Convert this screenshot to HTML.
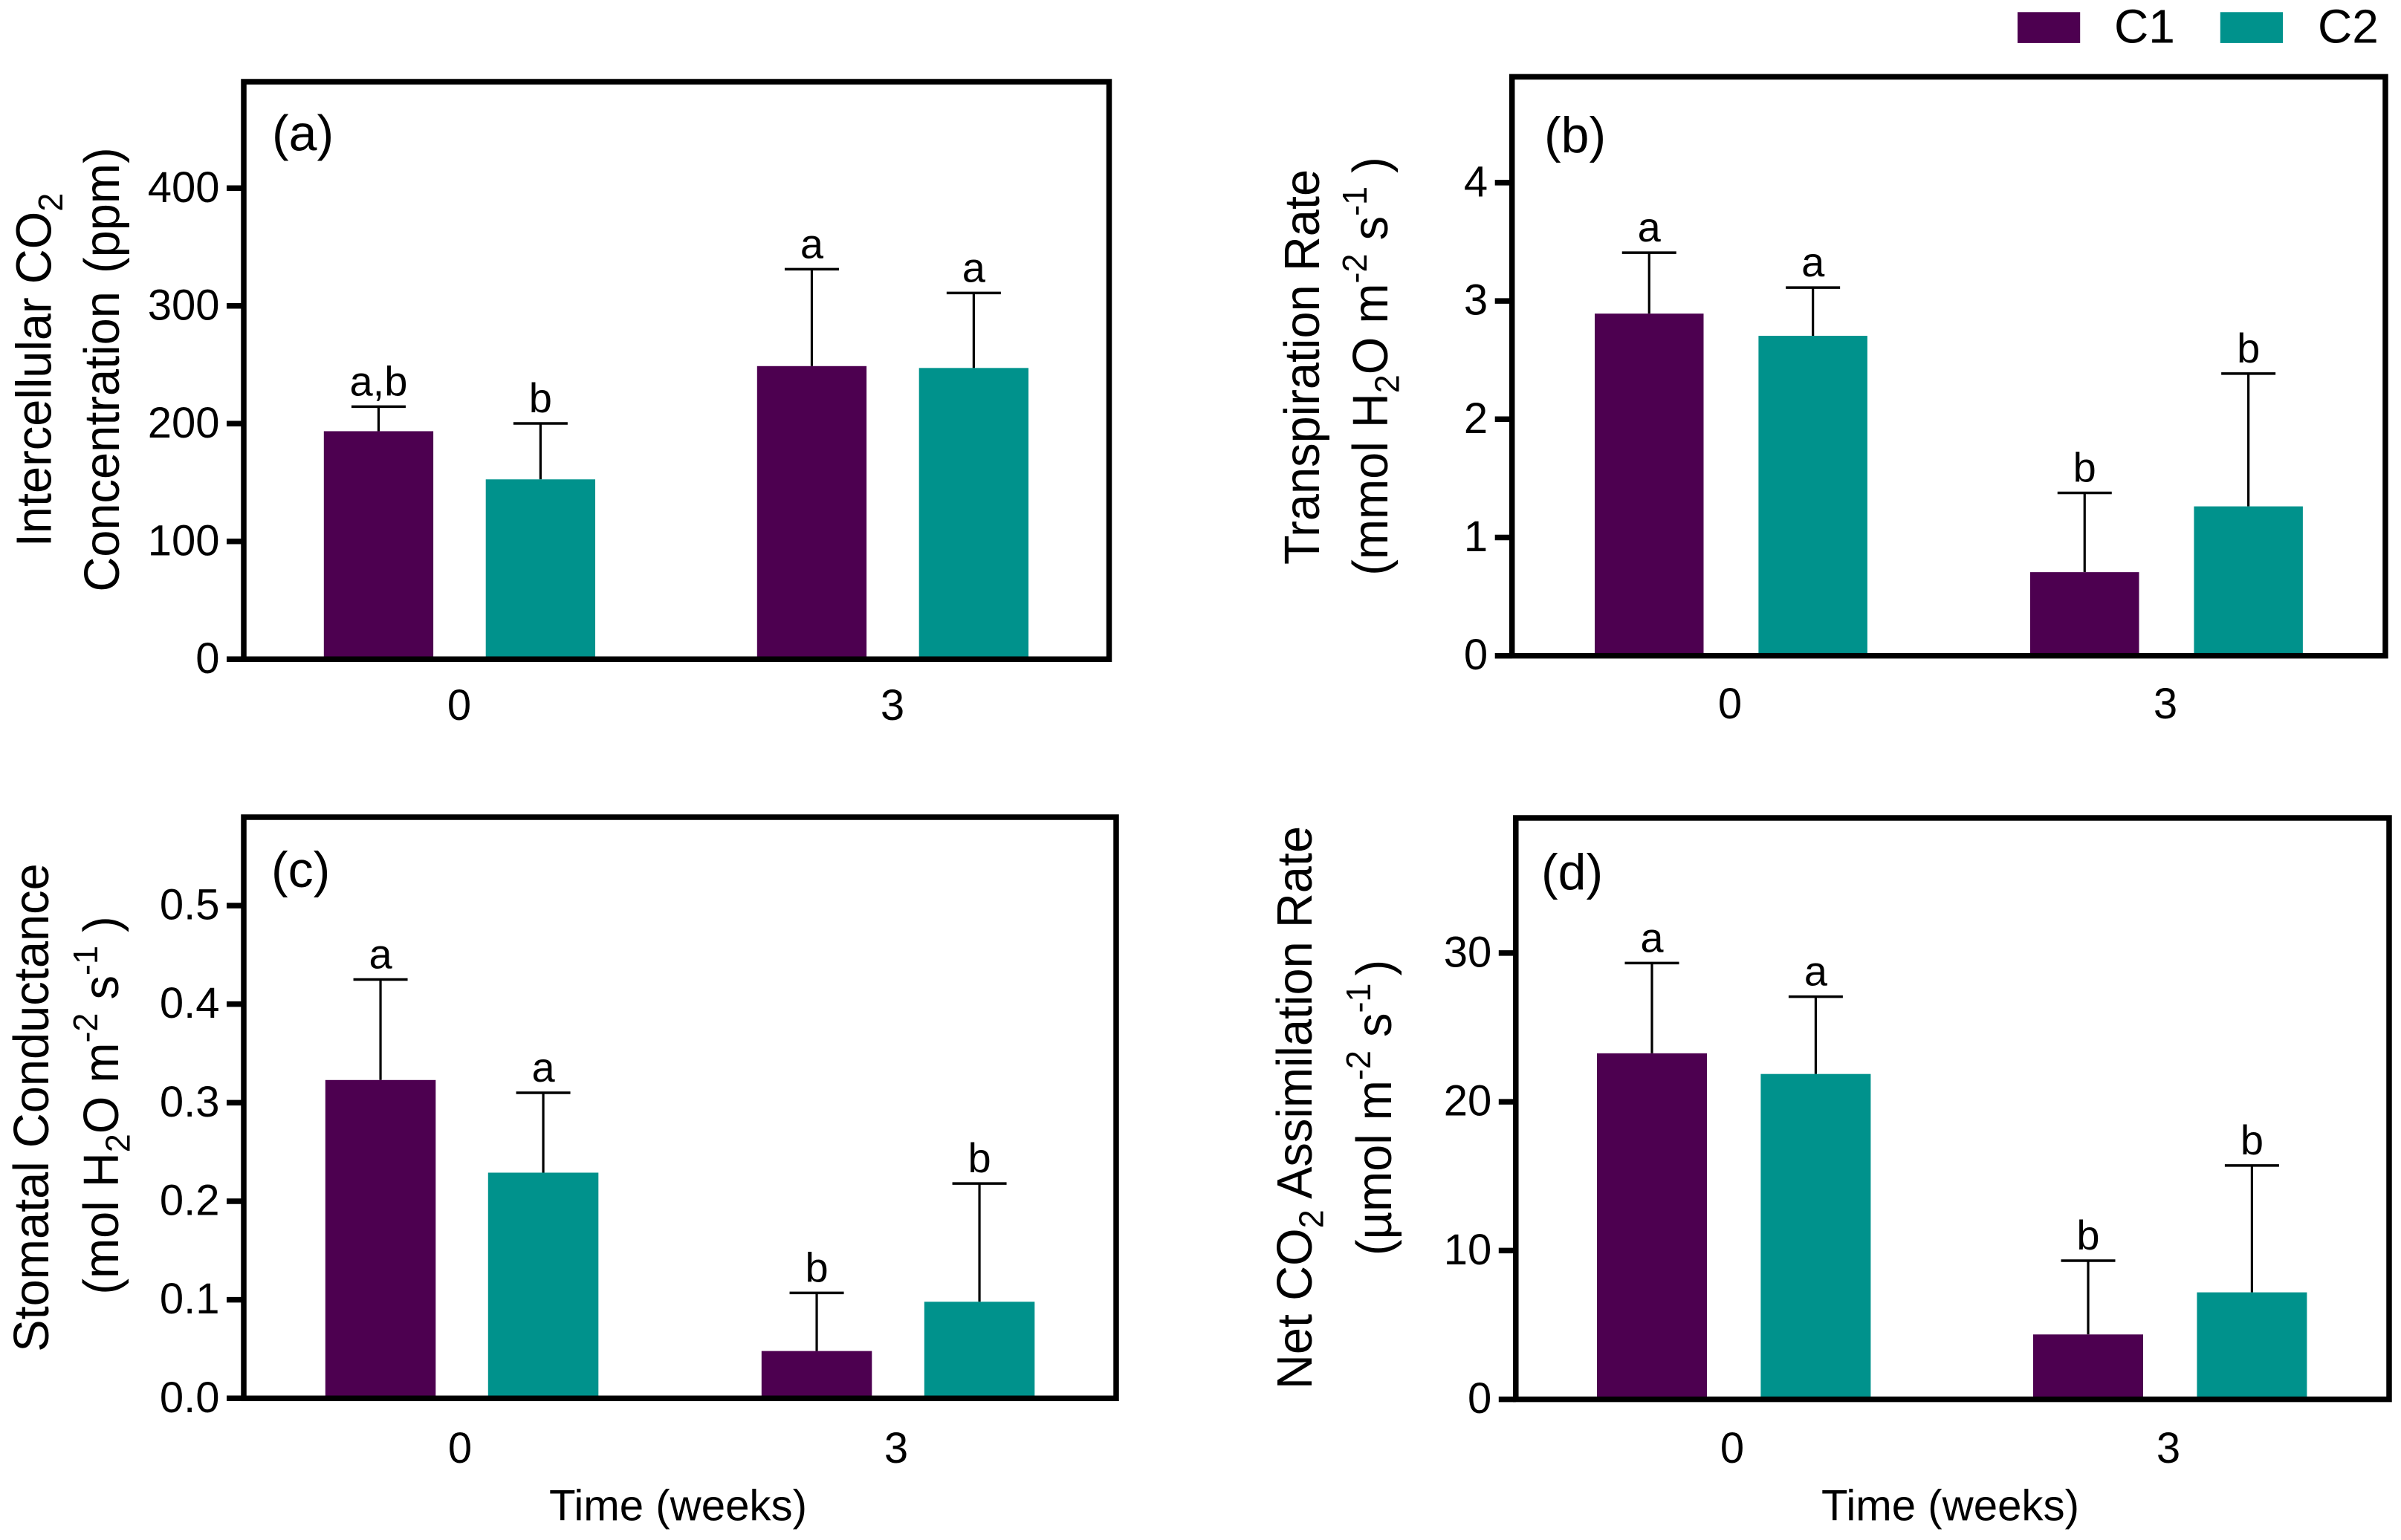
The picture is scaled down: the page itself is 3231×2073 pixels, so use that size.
<!DOCTYPE html>
<html lang="en">
<head>
<meta charset="utf-8">
<title>Gas exchange bar charts</title>
<style>
html,body{margin:0;padding:0;background:#fff;width:3231px;height:2073px;overflow:hidden}
svg{display:block}
text{font-family:"Liberation Sans",Arial,sans-serif;fill:#000}
.title{font-size:65px;text-anchor:middle}
.panel{font-size:68px}
.xt{font-size:58.2px;text-anchor:middle}
.frame{fill:none;stroke:#000;stroke-width:7.5}
</style>
</head>
<body>
<svg id="chart" xmlns="http://www.w3.org/2000/svg" width="3231" height="2073" viewBox="0 0 3231 2073">
  <rect width="3231" height="2073" fill="#fff"/>
  <g id="marks"></g>

  <rect class="frame" x="328" y="110" width="1164.5" height="777.3"/>
  <rect class="frame" x="2034.7" y="103.4" width="1175.3" height="779.3"/>
  <rect class="frame" x="328" y="1100" width="1174" height="782.3"/>
  <rect class="frame" x="2039.8" y="1101" width="1175.2" height="782.6"/>

  <text class="panel" x="366" y="202.5">(a)</text>
  <text class="panel" x="2078" y="205">(b)</text>
  <text class="panel" x="365" y="1194">(c)</text>
  <text class="panel" x="2074" y="1197">(d)</text>

  <text class="title" transform="translate(68.5,498) rotate(-90) scale(1,1.03)">Intercellular CO<tspan font-size="45" dy="15">2</tspan></text>
  <text class="title" transform="translate(160,497.5) rotate(-90) scale(1,1.03)">Concentration <tspan dx="6">(ppm)</tspan></text>

  <text class="title" transform="translate(1775,494) rotate(-90) scale(1,1.03)">Transpiration Rate</text>
  <text class="title" transform="translate(1867,493) rotate(-90) scale(1,1.03)">(mmol H<tspan font-size="45" dy="15">2</tspan><tspan dy="-15">O m</tspan><tspan font-size="45" dy="-27">-2</tspan><tspan dy="27"> s</tspan><tspan font-size="45" dy="-27">-1</tspan><tspan dx="18" dy="27">)</tspan></text>

  <text class="title" transform="translate(65,1491) rotate(-90) scale(1,1.03)">Stomatal Conductance</text>
  <text class="title" transform="translate(159,1488) rotate(-90) scale(1,1.03)">(mol H<tspan font-size="45" dy="15">2</tspan><tspan dy="-15">O m</tspan><tspan font-size="45" dy="-27">-2</tspan><tspan dy="27"> s</tspan><tspan font-size="45" dy="-27">-1</tspan><tspan dx="18" dy="27">)</tspan></text>

  <text class="title" transform="translate(1765,1491) rotate(-90) scale(1,1.03)">Net CO<tspan font-size="45" dy="15">2</tspan><tspan dy="-15"> Assimilation Rate</tspan></text>
  <text class="title" transform="translate(1872,1491) rotate(-90) scale(1,1.03)">(µmol m<tspan font-size="45" dy="-27">-2</tspan><tspan dy="27"> s</tspan><tspan font-size="45" dy="-27">-1</tspan><tspan dx="10" dy="27">)</tspan></text>

  <text class="xt" x="912.5" y="2046.5">Time (weeks)</text>
  <text class="xt" x="2624.5" y="2046.5">Time (weeks)</text>

  <g>
    <rect x="2715" y="16.3" width="84.2" height="41.6" fill="#4d0050"/>
    <text x="2845" y="57.5" font-size="64">C1</text>
    <rect x="2987.8" y="16.3" width="84.2" height="41.6" fill="#00928c"/>
    <text x="3119" y="57.5" font-size="64">C2</text>
  </g>
</svg>
<script>
const timeCategories = ['0', '3'];

const panelATicks = ['0', '100', '200', '300', '400'];
const panelAC1Means = [193.6, 248.9];
const panelAC2Means = [152.7, 247.3];
const panelAC1Errors = [20.9, 82.3];
const panelAC2Errors = [47.5, 63.7];
const panelAC1Letters = ['a,b', 'a'];
const panelAC2Letters = ['b', 'a'];

const panelBTicks = ['0', '1', '2', '3', '4'];
const panelBC1Means = [2.893, 0.707];
const panelBC2Means = [2.705, 1.263];
const panelBC1Errors = [0.515, 0.67];
const panelBC2Errors = [0.408, 1.123];
const panelBC1Letters = ['a', 'b'];
const panelBC2Letters = ['a', 'b'];

const panelCTicks = ['0.0', '0.1', '0.2', '0.3', '0.4', '0.5'];
const panelCC1Means = [0.323, 0.048];
const panelCC2Means = [0.229, 0.098];
const panelCC1Errors = [0.102, 0.059];
const panelCC2Errors = [0.081, 0.12];
const panelCC1Letters = ['a', 'b'];
const panelCC2Letters = ['a', 'b'];

const panelDTicks = ['0', '10', '20', '30'];
const panelDC1Means = [23.26, 4.36];
const panelDC2Means = [21.87, 7.19];
const panelDC1Errors = [6.07, 4.96];
const panelDC2Errors = [5.2, 8.53];
const panelDC1Letters = ['a', 'b'];
const panelDC2Letters = ['a', 'b'];

const seriesColors = ['#4d0050', '#00928c'];
const seriesKeys = ['c1', 'c2'];
const NS = 'http://www.w3.org/2000/svg';
const root = document.getElementById('marks');

function drawPanel(key, g, ticks, means, errors, letters) {
  const tickMax = parseFloat(ticks[ticks.length - 1]);
  const yScale = function (v) { return g.y0 - (v / tickMax) * (g.y0 - g.yMaxTick); };
  const xScale = function (cat, ser) { return g.barStart + cat * g.groupStep + ser * g.seriesStep; };

  ticks.forEach(function (label) {
    const v = parseFloat(label);
    const y = yScale(v);
    const tick = document.createElementNS(NS, 'line');
    
    
    tick.setAttribute('x1', g.frameLeft - 23);
    tick.setAttribute('x2', g.frameLeft);
    tick.setAttribute('y1', y);
    tick.setAttribute('y2', y);
    tick.setAttribute('stroke', '#000');
    tick.setAttribute('stroke-width', '7.5');
    root.appendChild(tick);

    const text = document.createElementNS(NS, 'text');
    
    
    text.setAttribute('x', g.frameLeft - 32.5);
    text.setAttribute('y', y + 18.5);
    text.setAttribute('font-size', '58');
    text.setAttribute('text-anchor', 'end');
    text.textContent = label;
    root.appendChild(text);
  });

  timeCategories.forEach(function (cat, c) {
    const xLabel = document.createElementNS(NS, 'text');
    
    
    xLabel.setAttribute('x', g.labelStart + c * g.groupStep);
    xLabel.setAttribute('y', g.labelY);
    xLabel.setAttribute('font-size', '58');
    xLabel.setAttribute('text-anchor', 'middle');
    xLabel.textContent = cat;
    root.appendChild(xLabel);

    means.forEach(function (series, s) {
      const left = xScale(c, s);
      const cx = left + g.barWidth / 2;
      const top = yScale(series[c]);
      const errTop = yScale(series[c] + errors[s][c]);

      const stem = document.createElementNS(NS, 'line');
      
      
      stem.setAttribute('x1', cx);
      stem.setAttribute('x2', cx);
      stem.setAttribute('y1', errTop);
      stem.setAttribute('y2', top);
      stem.setAttribute('stroke', '#000');
      stem.setAttribute('stroke-width', '3.2');
      root.appendChild(stem);

      const cap = document.createElementNS(NS, 'line');
      
      
      cap.setAttribute('x1', cx - 36.5);
      cap.setAttribute('x2', cx + 36.5);
      cap.setAttribute('y1', errTop);
      cap.setAttribute('y2', errTop);
      cap.setAttribute('stroke', '#000');
      cap.setAttribute('stroke-width', '3.5');
      root.appendChild(cap);

      const bar = document.createElementNS(NS, 'rect');
      
      
      bar.setAttribute('data-series', seriesKeys[s]);
      bar.setAttribute('x', left);
      bar.setAttribute('y', top);
      bar.setAttribute('width', g.barWidth);
      bar.setAttribute('height', g.y0 - top);
      bar.setAttribute('fill', seriesColors[s]);
      root.appendChild(bar);

      const sig = document.createElementNS(NS, 'text');
      
      
      sig.setAttribute('x', cx);
      sig.setAttribute('y', errTop - 15);
      sig.setAttribute('font-size', '56');
      sig.setAttribute('text-anchor', 'middle');
      sig.textContent = letters[s][c];
      root.appendChild(sig);
    });
  });
}

drawPanel('a',
  {frameLeft: 328, y0: 887.3, yMaxTick: 253.3, barStart: 435.8, barWidth: 147.3, seriesStep: 217.9, groupStep: 583, labelStart: 618, labelY: 969},
  panelATicks, [panelAC1Means, panelAC2Means], [panelAC1Errors, panelAC2Errors], [panelAC1Letters, panelAC2Letters]);
drawPanel('b',
  {frameLeft: 2034.7, y0: 882.7, yMaxTick: 245.9, barStart: 2146, barWidth: 146.5, seriesStep: 220.4, groupStep: 586, labelStart: 2328, labelY: 967},
  panelBTicks, [panelBC1Means, panelBC2Means], [panelBC1Errors, panelBC2Errors], [panelBC1Letters, panelBC2Letters]);
drawPanel('c',
  {frameLeft: 328, y0: 1882.3, yMaxTick: 1219, barStart: 437.8, barWidth: 148.5, seriesStep: 219, groupStep: 587, labelStart: 619, labelY: 1969},
  panelCTicks, [panelCC1Means, panelCC2Means], [panelCC1Errors, panelCC2Errors], [panelCC1Letters, panelCC2Letters]);
drawPanel('d',
  {frameLeft: 2039.8, y0: 1883.6, yMaxTick: 1282.9, barStart: 2149, barWidth: 148, seriesStep: 220.4, groupStep: 587, labelStart: 2331, labelY: 1969},
  panelDTicks, [panelDC1Means, panelDC2Means], [panelDC1Errors, panelDC2Errors], [panelDC1Letters, panelDC2Letters]);
</script>
</body>
</html>
